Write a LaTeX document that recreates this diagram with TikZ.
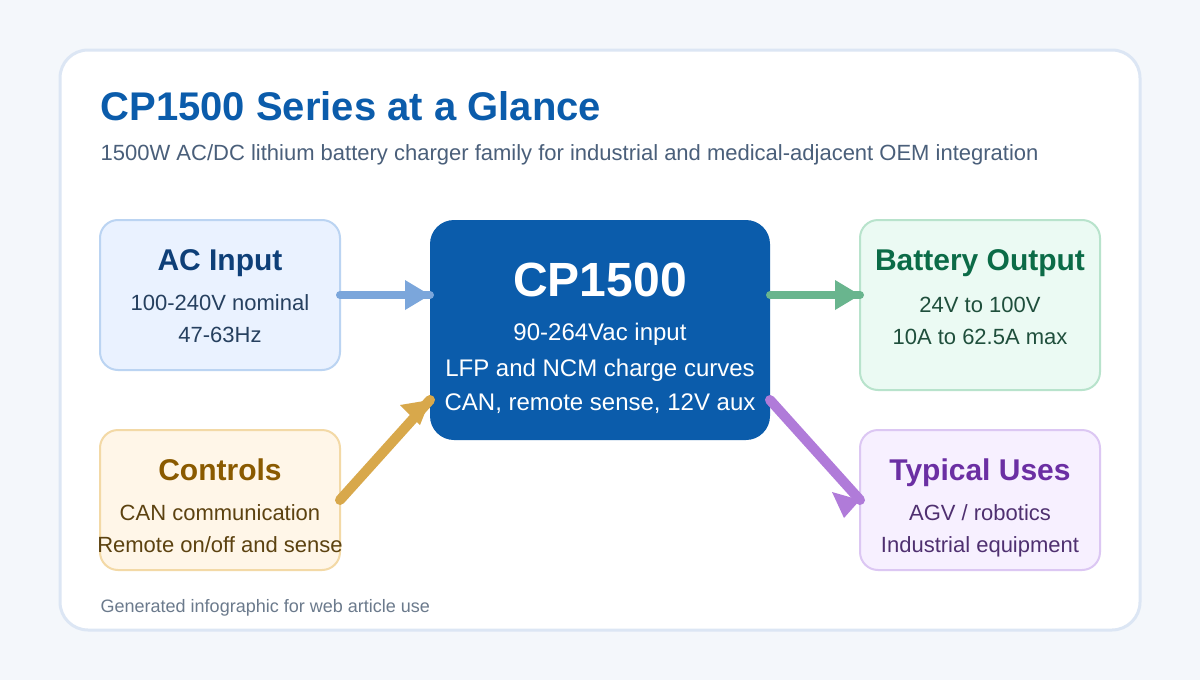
\documentclass[tikz,border=0pt]{standalone}
\usepackage{fontspec}
\setmainfont{Liberation Sans}
\definecolor{pagebg}{HTML}{F4F7FB}
\definecolor{cardline}{HTML}{DCE6F4}
\definecolor{corefill}{HTML}{0B5CAB}
\definecolor{subtxt}{HTML}{4A5F7A}
\definecolor{foot}{HTML}{6B7A8C}
\definecolor{acfill}{HTML}{EAF2FF}\definecolor{acline}{HTML}{BBD4F2}\definecolor{achead}{HTML}{0E3F78}\definecolor{actxt}{HTML}{26405F}\definecolor{acarrow}{HTML}{7BA6DB}
\definecolor{ctfill}{HTML}{FFF6E8}\definecolor{ctline}{HTML}{F3D9A6}\definecolor{cthead}{HTML}{8A5A00}\definecolor{cttxt}{HTML}{5C4210}\definecolor{ctarrow}{HTML}{D8A84B}
\definecolor{btfill}{HTML}{EBFAF3}\definecolor{btline}{HTML}{B8E3CC}\definecolor{bthead}{HTML}{0B6B47}\definecolor{bttxt}{HTML}{1F4F3C}\definecolor{btarrow}{HTML}{69B58E}
\definecolor{tyfill}{HTML}{F7F0FF}\definecolor{tyline}{HTML}{DCC7F3}\definecolor{tyhead}{HTML}{6B2FA3}\definecolor{tytxt}{HTML}{4F3070}\definecolor{tyarrow}{HTML}{B07BD9}
\newcommand{\fs}[1]{\fontsize{#1}{#1}\selectfont}
\tikzset{
  panel/.style={rectangle,rounded corners=18pt,minimum width=240pt,inner sep=0pt,outer sep=0pt,line width=2pt},
  txt/.style={inner sep=0pt,anchor=base},
  conn/.style={line width=8pt,line cap=round},
  diag/.style={line width=10pt,line cap=round},
}
\begin{document}
\begin{tikzpicture}[x=1pt,y=-1pt]
\useasboundingbox (0,0) rectangle (1200,680);
\fill[pagebg] (0,0) rectangle (1200,680);
\draw[cardline,line width=3pt,fill=white,rounded corners=28pt] (60,50) rectangle (1140,630);
\node[txt,anchor=base west,text=corefill,font=\fs{40}\bfseries] (title) at (100.5,120) {CP1500 Series at a Glance};
\node[txt,anchor=base west,text=subtxt,font=\fs{22}] (sub) at (100.5,160) {1500W AC/DC lithium battery charger family for industrial and medical-adjacent OEM integration};
\node[panel,draw=acline,fill=acfill,minimum height=150pt] (ac) at (220,295) {};
\node[panel,draw=ctline,fill=ctfill,minimum height=140pt] (ct) at (220,500) {};
\node[panel,draw=btline,fill=btfill,minimum height=170pt] (bt) at (980,305) {};
\node[panel,draw=tyline,fill=tyfill,minimum height=140pt] (ty) at (980,500) {};
\node[rectangle,rounded corners=24pt,fill=corefill,minimum width=340pt,minimum height=220pt,inner sep=0pt,outer sep=0pt] (core) at (600,330) {};
\node[txt,text=achead,font=\fs{30}\bfseries] (t1) at (220,270) {AC Input};
\node[txt,text=actxt,font=\fs{22}] (t2) at (220,310) {100-240V nominal};
\node[txt,text=actxt,font=\fs{22}] (t3) at (220,342) {47-63Hz};
\node[txt,text=cthead,font=\fs{30}\bfseries] (t4) at (220,480) {Controls};
\node[txt,text=cttxt,font=\fs{22}] (t5) at (220,520) {CAN communication};
\node[txt,text=cttxt,font=\fs{22}] (t6) at (220,552) {Remote on/off and sense};
\node[txt,text=white,font=\fs{48}\bfseries] (t7) at (600,296) {CP1500};
\node[txt,text=white,font=\fs{24}] (t8) at (600,340) {90-264Vac input};
\node[txt,text=white,font=\fs{24}] (t9) at (600,376) {LFP and NCM charge curves};
\node[txt,text=white,font=\fs{24}] (t10) at (600,410) {CAN, remote sense, 12V aux};
\node[txt,text=bthead,font=\fs{30}\bfseries] (t11) at (980,270) {Battery Output};
\node[txt,text=bttxt,font=\fs{22}] (t12) at (980,312) {24V to 100V};
\node[txt,text=bttxt,font=\fs{22}] (t13) at (980,344) {10A to 62.5A max};
\node[txt,text=tyhead,font=\fs{30}\bfseries] (t14) at (980,480) {Typical Uses};
\node[txt,text=tytxt,font=\fs{22}] (t15) at (980,520) {AGV / robotics};
\node[txt,text=tytxt,font=\fs{22}] (t16) at (980,552) {Industrial equipment};
\node[txt,anchor=base west,text=foot,font=\fs{18}] (foot) at (100.5,612) {Generated infographic for web article use};
\coordinate (a1) at (ac.east);
\coordinate (a2) at ([yshift=35pt]core.west);
\coordinate (b1) at (ct.east);
\coordinate (b2) at ([yshift=-70pt]core.west);
\coordinate (c1) at ([yshift=35pt]core.east);
\coordinate (c2) at ([yshift=10pt]bt.west);
\coordinate (d1) at ([yshift=-70pt]core.east);
\coordinate (d2) at (ty.west);
\draw[conn,acarrow] (a1) -- (a2);
\fill[acarrow] (a2) -- ++(-25,-15) -- ++(0,30) -- cycle;
\draw[diag,ctarrow] (b1) -- (b2);
\fill[ctarrow] (b2) -- ++(-30,5) -- ++(20,20) -- cycle;
\draw[conn,btarrow] (c1) -- (c2);
\fill[btarrow] (c2) -- ++(-25,-15) -- ++(0,30) -- cycle;
\draw[diag,tyarrow] (d1) -- (d2);
\fill[tyarrow] (d2) -- ++(-28,-8) -- ++(12,26) -- cycle;
\end{tikzpicture}
\end{document}
